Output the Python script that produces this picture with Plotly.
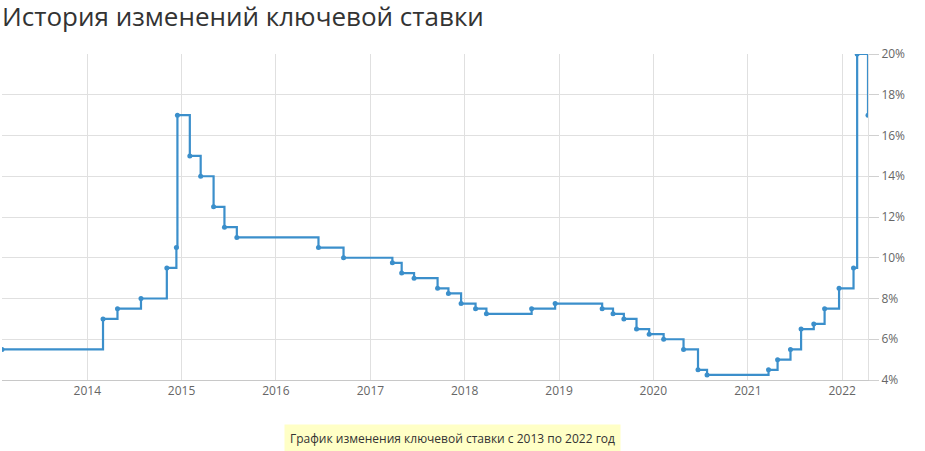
import plotly.graph_objects as go

dates = [
    "2013-02-05", "2014-03-03", "2014-04-28", "2014-07-28", "2014-11-05",
    "2014-12-12", "2014-12-16", "2015-02-02", "2015-03-16", "2015-05-05",
    "2015-06-16", "2015-08-03", "2016-06-14", "2016-09-19", "2017-03-27",
    "2017-05-02", "2017-06-19", "2017-09-18", "2017-10-30", "2017-12-18",
    "2018-02-12", "2018-03-26", "2018-09-17", "2018-12-17", "2019-06-17",
    "2019-07-29", "2019-09-09", "2019-10-28", "2019-12-16", "2020-02-10",
    "2020-04-27", "2020-06-22", "2020-07-27", "2021-03-22", "2021-04-26",
    "2021-06-15", "2021-07-26", "2021-09-13", "2021-10-25", "2021-12-20",
    "2022-02-14", "2022-02-28", "2022-04-11",
]
rates = [
    5.5, 7.0, 7.5, 8.0, 9.5,
    10.5, 17.0, 15.0, 14.0, 12.5,
    11.5, 11.0, 10.5, 10.0, 9.75,
    9.25, 9.0, 8.5, 8.25, 7.75,
    7.5, 7.25, 7.5, 7.75, 7.5,
    7.25, 7.0, 6.5, 6.25, 6.0,
    5.5, 4.5, 4.25, 4.5, 5.0,
    5.5, 6.5, 6.75, 7.5, 8.5,
    9.5, 20.0, 17.0,
]
y_ticks = [4, 6, 8, 10, 12, 14, 16, 18, 20]

title_text = "История изменений ключевой ставки"
caption_text = "График изменения ключевой ставки с 2013 по 2022 год"

line_color = "#3b8fcb"

fig = go.Figure()
fig.add_trace(go.Scatter(
    x=dates, y=rates, mode="lines+markers",
    line=dict(shape="hv", color=line_color, width=2.2),
    marker=dict(size=5, color=line_color),
    hoverinfo="x+y", showlegend=False,
))

fig.update_layout(
    width=925, height=451,
    margin=dict(l=2, r=57, t=54, b=71),
    paper_bgcolor="white", plot_bgcolor="white",
    font=dict(family="Open Sans, sans-serif", color="#555"),
    title=dict(text=title_text, xref="container", x=0.0, xanchor="left",
               yref="container", y=1 - 17 / 451, yanchor="middle",
               pad=dict(l=2, t=0, b=0, r=0),
               font=dict(size=26, color="#333", family="Open Sans, sans-serif")),
    xaxis=dict(
        type="date", range=[dates[0], dates[-1]],
        dtick="M12", tick0="2014-01-01", tickformat="%Y",
        showgrid=True, gridcolor="#e0e0e0", gridwidth=1,
        showline=True, linecolor="#c8c8c8", linewidth=1,
        ticks="", ticklen=0,
        tickfont=dict(size=12, color="#666"),
        zeroline=False, fixedrange=True,
    ),
    yaxis=dict(
        side="right", range=[4, 20], tickvals=y_ticks,
        ticktext=[f"{v}%" for v in y_ticks],
        showgrid=True, gridcolor="#e0e0e0", gridwidth=1,
        showline=True, linecolor="#e0e0e0", linewidth=1, mirror=False,
        ticks="outside", ticklen=10, tickcolor="#d0d0d0",
        tickfont=dict(size=12, color="#666"),
        zeroline=False, fixedrange=True,
    ),
    annotations=[dict(
        text=caption_text, xref="paper", yref="paper",
        x=(452 - 2) / 866, y=(380 - 438) / 326, xanchor="center", yanchor="middle",
        showarrow=False, bgcolor="#ffffc6", borderpad=5,
        font=dict(size=12, color="#333"),
    )],
)

fig.write_html(
    "out.html",
    config={"displayModeBar": False},
    post_script="document.body.style.margin='0';document.body.style.overflow='hidden';",
)
